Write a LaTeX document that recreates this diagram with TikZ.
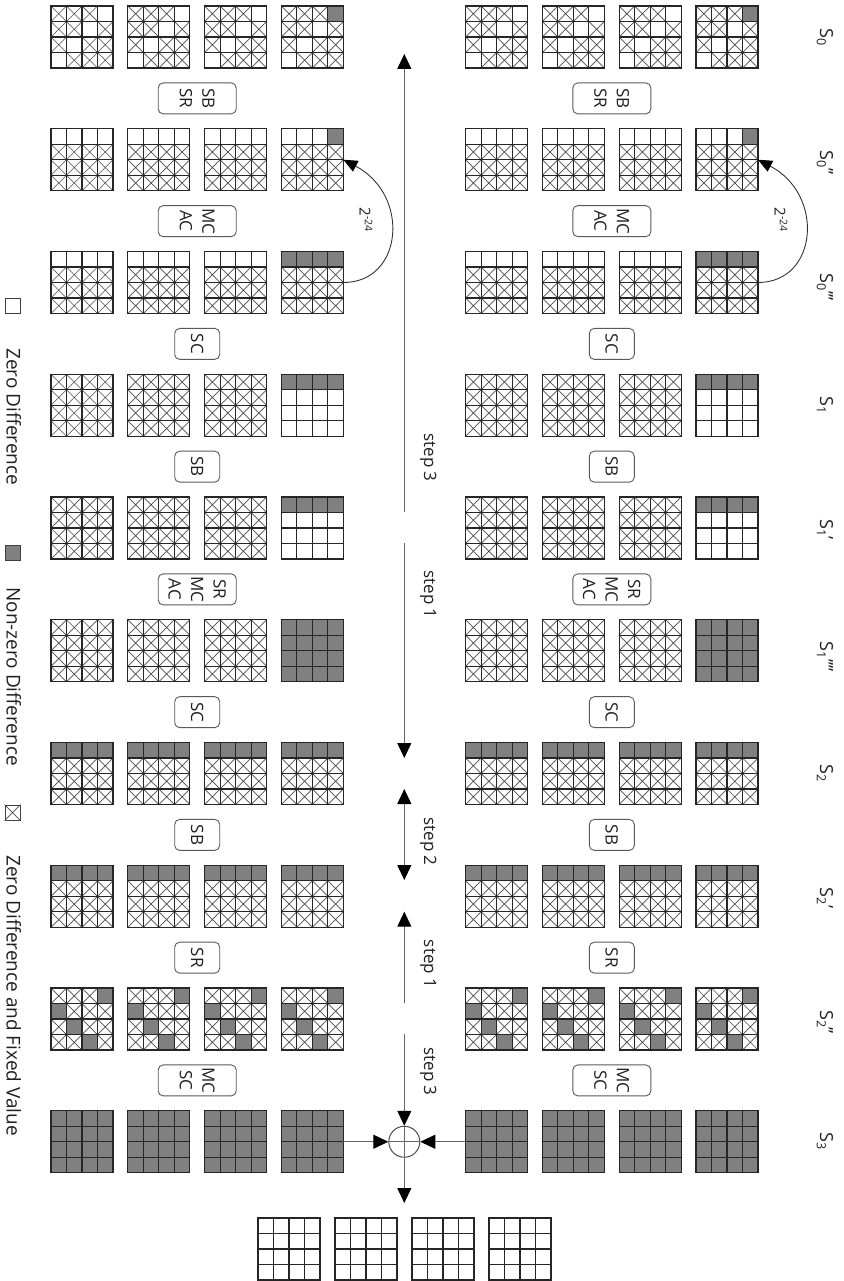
\documentclass[tikz,border=0pt]{standalone}
\usepackage{fontspec}
\setmainfont{Open Sans}
\usetikzlibrary{arrows.meta}
\definecolor{cellgray}{HTML}{808080}
\definecolor{txt}{HTML}{202020}
\tikzset{
  gridnode/.style={inner sep=0pt,minimum size=62pt,outer sep=0pt},
  gridline/.style={draw=black!85,line width=1.1pt,line cap=rect},
  crossline/.style={draw=black!70,line width=0.7pt},
  opstyle/.style={draw=black!65,line width=0.9pt,rounded corners=5pt,rotate=-90,
    minimum width=31pt,inner sep=1pt,align=center,text=txt,
    font=\fontsize{17}{22.5}\selectfont},
  slabel/.style={rotate=-90,anchor=base west,inner sep=0pt,text=txt,font=\fontsize{18}{20}\selectfont},
  steplab/.style={rotate=-90,anchor=base,inner sep=0pt,text=txt,font=\fontsize{17}{20}\selectfont},
  legtxt/.style={rotate=-90,anchor=base west,inner sep=0pt,text=txt,font=\fontsize{19}{21}\selectfont},
  legsq/.style={draw=black!75,line width=0.9pt,minimum size=15pt,inner sep=0pt},
  axisline/.style={draw=black!60,line width=1pt},
  arr/.style={axisline,-{Triangle[length=15pt,width=14pt,color=black]}},
  arrboth/.style={axisline,{Triangle[length=15pt,width=14pt,color=black]}-{Triangle[length=15pt,width=14pt,color=black]}},
  curvearr/.style={draw=black!80,line width=0.9pt,-{Triangle[length=14pt,width=12pt,color=black]}},
  powlab/.style={rotate=-90,inner sep=0pt,text=txt,font=\fontsize{15}{16}\selectfont}
}
\newcommand\gridat[4]{%
  \pgfmathsetmacro\gx{#1}\pgfmathsetmacro\gy{#2}%
  \node[gridnode] (#4) at (\gx+31,\gy+31) {};
  \foreach \ctype [count=\ci from 0] in {#3} {%
    \pgfmathtruncatemacro\gcc{mod(\ci,4)}%
    \pgfmathtruncatemacro\grr{floor(\ci/4)}%
    \pgfmathsetmacro\xx{\gx+15.5*\gcc}%
    \pgfmathsetmacro\yy{\gy+15.5*\grr}%
    \if\ctype G\fill[cellgray] (\xx,\yy) rectangle ++(15.5,15.5);\fi
    \if\ctype X\draw[crossline] (\xx,\yy) -- ++(15.5,15.5) (\xx+15.5,\yy) -- ++(-15.5,15.5);\fi
  }%
  \foreach \kk in {0,...,4} {\draw[gridline] (\gx+15.5*\kk,\gy) -- ++(0,62); \draw[gridline] (\gx,\gy+15.5*\kk) -- ++(62,0);}%
}
\newcommand\blockrow[3]{%
  \pgfmathsetmacro\ry{6+122.75*#1}%
  \foreach \sd/\bx in {L/51,R/465.6} {%
    \foreach \gi in {0,1,2} {\gridat{\bx+76.8*\gi}{\ry}{#2}{g#1\sd\gi}}%
    \gridat{\bx+76.8*3}{\ry}{#3}{g#1\sd3}%
  }%
}
\newcommand\opbox[3]{%
  \pgfmathsetmacro\oy{6+122.75*#1+92.4}%
  \node[opstyle,minimum height=#2] (op#1L) at (197.2,\oy) {#3};
  \node[opstyle,minimum height=#2] (op#1R) at (611.8,\oy) {#3};
}
\newcommand\slab[3]{%
  \pgfmathsetmacro\ly{6+122.75*#1+22}%
  \node[slabel] (#3) at (820,\ly) {#2};
}
\begin{document}
\begin{tikzpicture}[x=1pt,y=-1pt]
\useasboundingbox (0,0) rectangle (843,1281);
% grids
\blockrow{0}{X,X,X,W,X,X,W,X,X,W,X,X,W,X,X,X}{X,X,X,G,X,X,W,X,X,W,X,X,W,X,X,X}
\blockrow{1}{W,W,W,W,X,X,X,X,X,X,X,X,X,X,X,X}{W,W,W,G,X,X,X,X,X,X,X,X,X,X,X,X}
\blockrow{2}{W,W,W,W,X,X,X,X,X,X,X,X,X,X,X,X}{G,G,G,G,X,X,X,X,X,X,X,X,X,X,X,X}
\blockrow{3}{X,X,X,X,X,X,X,X,X,X,X,X,X,X,X,X}{G,G,G,G,W,W,W,W,W,W,W,W,W,W,W,W}
\blockrow{4}{X,X,X,X,X,X,X,X,X,X,X,X,X,X,X,X}{G,G,G,G,W,W,W,W,W,W,W,W,W,W,W,W}
\blockrow{5}{X,X,X,X,X,X,X,X,X,X,X,X,X,X,X,X}{G,G,G,G,G,G,G,G,G,G,G,G,G,G,G,G}
\blockrow{6}{G,G,G,G,X,X,X,X,X,X,X,X,X,X,X,X}{G,G,G,G,X,X,X,X,X,X,X,X,X,X,X,X}
\blockrow{7}{G,G,G,G,X,X,X,X,X,X,X,X,X,X,X,X}{G,G,G,G,X,X,X,X,X,X,X,X,X,X,X,X}
\blockrow{8}{X,X,X,G,G,X,X,X,X,G,X,X,X,X,G,X}{X,X,X,G,G,X,X,X,X,G,X,X,X,X,G,X}
\blockrow{9}{G,G,G,G,G,G,G,G,G,G,G,G,G,G,G,G}{G,G,G,G,G,G,G,G,G,G,G,G,G,G,G,G}
\foreach \gi in {0,...,3} {\gridat{258+77*\gi}{1218}{W,W,W,W,W,W,W,W,W,W,W,W,W,W,W,W}{out\gi}}
% operation boxes
\opbox{0}{78}{SB\\SR}
\opbox{1}{78}{MC\\AC}
\opbox{2}{45}{SC}
\opbox{3}{45}{SB}
\opbox{4}{78}{SR\\MC\\AC}
\opbox{5}{45}{SC}
\opbox{6}{45}{SB}
\opbox{7}{45}{SR}
\opbox{8}{78}{MC\\SC}
% state labels
\slab{0}{S\textsubscript{0}}{lab0}
\slab{1}{S\textsubscript{0}’’}{lab1}
\slab{2}{S\textsubscript{0}’’’}{lab2}
\slab{3}{S\textsubscript{1}}{lab3}
\slab{4}{S\textsubscript{1}’}{lab4}
\slab{5}{S\textsubscript{1}’’’’}{lab5}
\slab{6}{S\textsubscript{2}}{lab6}
\slab{7}{S\textsubscript{2}’}{lab7}
\slab{8}{S\textsubscript{2}’’}{lab8}
\slab{9}{S\textsubscript{3}}{lab9}
% curved probability arrows
\draw[curvearr] (g2L3.east) .. controls +(60,0) and +(67,35) .. (g1L3.east);
\draw[curvearr] (g2R3.east) .. controls +(60,0) and +(67,35) .. (g1R3.east);
\node[powlab] (pwL) at (366,220) {2\textsuperscript{-24}};
\node[powlab] (pwR) at (781,220) {2\textsuperscript{-24}};
% xor
\node[circle,draw=black!70,line width=1pt,minimum size=31pt,inner sep=0pt] (xor) at (404.3,1141.75) {};
\draw[axisline] (xor.north) -- (xor.south) (xor.west) -- (xor.east);
% axis arrows
\coordinate (t0) at (404.3,54);
\coordinate (t1) at (404.3,511.7);
\coordinate (t2) at (404.3,543);
\coordinate (t3) at (404.3,758);
\coordinate (t4) at (404.3,789);
\coordinate (t5) at (404.3,880);
\coordinate (t6) at (404.3,1003);
\coordinate (t7) at (404.3,911.7);
\coordinate (t8) at (404.3,1034);
\coordinate (t9) at (404.3,1203);
\draw[arr] (t1) -- (t0);
\draw[arr] (t2) -- (t3);
\draw[arrboth] (t4) -- (t5);
\draw[arr] (t6) -- (t7);
\draw[arr] (t8) -- (xor.north);
\draw[arr] (g9L3.east) -- (xor.west);
\draw[arr] (g9R0.west) -- (xor.east);
\draw[arr] (xor.south) -- (t9);
% step labels
\node[steplab] (st1) at (424,457.5) {step 3};
\node[steplab] (st2) at (424,594.5) {step 1};
\node[steplab] (st3) at (424,841.5) {step 2};
\node[steplab] (st4) at (424,964) {step 1};
\node[steplab] (st5) at (424,1071.5) {step 3};
% legend
\node[legsq,fill=white] (lg1) at (12.5,305.5) {};
\node[legtxt] (lt1) at (6.5,348) {Zero Difference};
\node[legsq,fill=cellgray] (lg2) at (12.5,552.5) {};
\node[legtxt] (lt2) at (6.5,587) {Non-zero Difference};
\node[legsq,fill=white] (lg3) at (12.5,812.5) {};
\draw[crossline] (lg3.north west) -- (lg3.south east) (lg3.north east) -- (lg3.south west);
\node[legtxt] (lt3) at (6.5,855) {Zero Difference and Fixed Value};
\end{tikzpicture}
\end{document}
